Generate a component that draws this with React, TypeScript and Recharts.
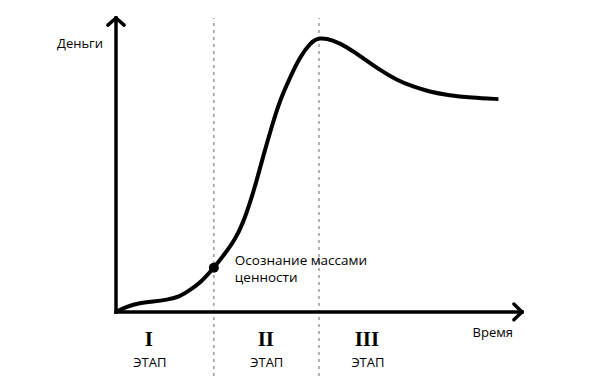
import React from 'react';
import { LineChart, Line, XAxis, YAxis, ReferenceLine, ReferenceDot } from 'recharts';

// кривая: время -> деньги (условные единицы, 0..100)
const time = [
    0, 2.6, 5.9, 9.1, 12.5, 15.8, 18.2, 20.7, 24.1, 26.6, 29.3, 31.3, 33.0, 34.7, 36.2, 38.4, 40.4, 42.9, 45.3,
    47.8, 50.0, 53.4, 56.8, 60.8, 65.0, 69.1, 73.2, 77.3, 81.5, 87.6, 94.2,
];
const money = [
    0, 1.8, 3.1, 3.5, 4.1, 5.2, 7.5, 9.8, 15.0, 19.4, 24.5, 30.3, 37.1, 44.9, 52.7, 63.3, 72.1, 79.9, 86.7,
    91.5, 93.5, 92.5, 90.2, 86.4, 82.3, 78.9, 76.6, 74.9, 73.8, 72.9, 72.4,
];

const stageBounds = [24.1, 50.0];
const stageNumerals = ['I', 'II', 'III'];
const stageCenters = [8.1, 36.9, 61.8];
const stageWord = 'ЭТАП';

const insight = { t: 24.1, money: 15.0, lines: ['Осознание массами', 'ценности'] };

const yTitle = 'Деньги';
const xTitle = 'Время';

const data = time.map((t, i) => ({ t, money: money[i] }));

const SANS = '"Open Sans", "Noto Sans", sans-serif';

export default function App() {
    const axisProps = { stroke: '#000', strokeWidth: 3.5, ifOverflow: 'visible' as const, strokeLinecap: 'square' as const };
    return (
        <div style={{ position: 'absolute', left: 0, top: 0, width: 591, height: 376, background: '#fff' }}>
            <LineChart width={591} height={376} data={data} margin={{ top: 18, right: 69, left: 116, bottom: 0 }}>
                <XAxis type="number" dataKey="t" domain={[0, 100]} hide />
                <YAxis type="number" domain={[-21.8, 100]} hide />

                {stageBounds.map((b) => (
                    <ReferenceLine key={b} x={b} stroke="#9a9a9a" strokeWidth={1.5} strokeDasharray="3 4" />
                ))}

                {/* оси со стрелками */}
                <ReferenceLine segment={[{ x: 0, y: 0 }, { x: 100, y: 0 }]} {...axisProps} />
                <ReferenceLine segment={[{ x: 0, y: 0 }, { x: 0, y: 100 }]} {...axisProps} />
                <ReferenceLine segment={[{ x: 100, y: 0 }, { x: 98, y: 2.7 }]} {...axisProps} strokeLinecap="round" />
                <ReferenceLine segment={[{ x: 100, y: 0 }, { x: 98, y: -2.7 }]} {...axisProps} strokeLinecap="round" />
                <ReferenceLine segment={[{ x: 0, y: 100 }, { x: -2, y: 97.6 }]} {...axisProps} strokeLinecap="round" />
                <ReferenceLine segment={[{ x: 0, y: 100 }, { x: 2, y: 97.6 }]} {...axisProps} strokeLinecap="round" />

                <Line
                    type="basis"
                    dataKey="money"
                    stroke="#000"
                    strokeWidth={4}
                    dot={false}
                    activeDot={false}
                    isAnimationActive={false}
                />

                <ReferenceDot
                    x={0}
                    y={100}
                    ifOverflow="visible"
                    shape={(p: any) => (
                        <text x={p.cx - 13} y={p.cy + 30} textAnchor="end" fontFamily={SANS} fontWeight={500} fontSize={13} fill="#000">
                            {yTitle}
                        </text>
                    )}
                />
                <ReferenceDot
                    x={100}
                    y={0}
                    ifOverflow="visible"
                    shape={(p: any) => (
                        <text x={p.cx - 9} y={p.cy + 25} textAnchor="end" fontFamily={SANS} fontWeight={500} fontSize={13} fill="#000">
                            {xTitle}
                        </text>
                    )}
                />

                {stageNumerals.map((n, i) => (
                    <ReferenceDot
                        key={n}
                        x={stageCenters[i]}
                        y={-11.6}
                        ifOverflow="visible"
                        shape={(p: any) => (
                            <g>
                                <text x={p.cx} y={p.cy} textAnchor="middle" fontFamily='"Liberation Serif", "DejaVu Serif", serif' fontWeight="bold" fontSize={21} fill="#000">
                                    {n}
                                </text>
                                <text x={p.cx + 1} y={p.cy + 21} textAnchor="middle" fontFamily={SANS} fontWeight={500} fontSize={13} fill="#000">
                                    {stageWord}
                                </text>
                            </g>
                        )}
                    />
                ))}

                <ReferenceDot
                    x={insight.t}
                    y={insight.money}
                    ifOverflow="visible"
                    shape={(p: any) => (
                        <g>
                            <circle cx={p.cx} cy={p.cy} r={5} fill="#000" />
                            <text x={p.cx + 21} y={p.cy - 3} fontFamily={SANS} fontWeight={500} fontSize={13.5} fill="#000">
                                {insight.lines.map((l, i) => (
                                    <tspan key={l} x={p.cx + 21} dy={i === 0 ? 0 : 17}>
                                        {l}
                                    </tspan>
                                ))}
                            </text>
                        </g>
                    )}
                />
            </LineChart>
        </div>
    );
}
